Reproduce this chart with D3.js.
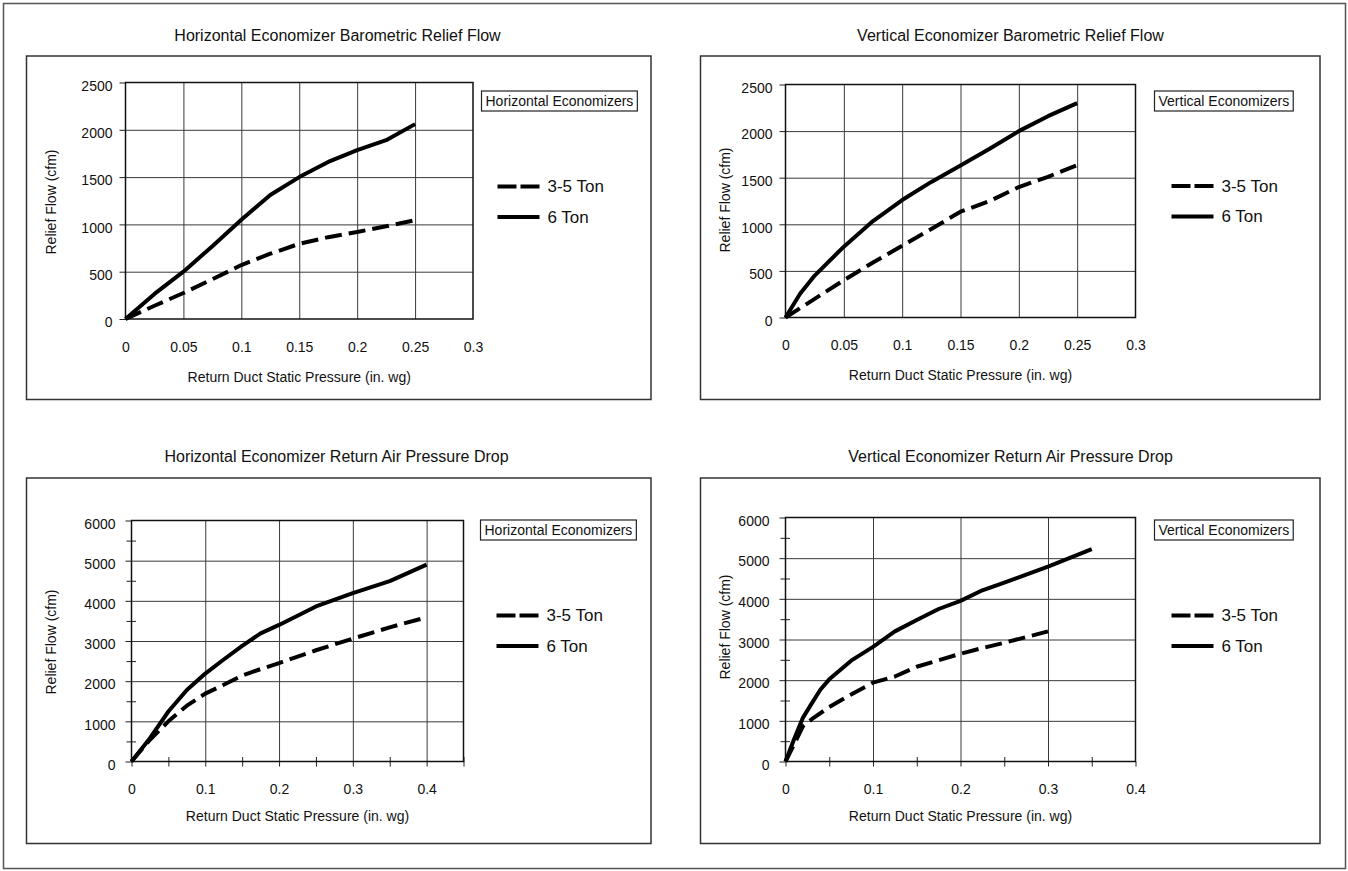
<!DOCTYPE html>
<html>
<head>
<meta charset="utf-8">
<script src="https://cdnjs.cloudflare.com/ajax/libs/d3/7.8.5/d3.min.js"></script>
<style>
  body { margin: 0; background: #fff; }
  svg { display: block; font-family: "Liberation Sans", Arial, sans-serif; }
</style>
</head>
<body>
<script>
const W = 1348, H = 871;

// top left: horizontal economizer, barometric relief
const hrX  = [0, 0.025, 0.05, 0.075, 0.1, 0.125, 0.15, 0.175, 0.2, 0.225, 0.25];
const hr35 = [0, 140, 275, 420, 570, 690, 795, 865, 920, 980, 1045];
const hr6  = [0, 265, 500, 770, 1050, 1310, 1500, 1660, 1785, 1890, 2060];

// top right: vertical economizer, barometric relief
const vr35X = [0, 0.025, 0.05, 0.075, 0.1, 0.125, 0.15, 0.175, 0.2, 0.225, 0.25];
const vr35  = [0, 200, 400, 590, 770, 950, 1135, 1250, 1400, 1510, 1635];
const vr6X  = [0, 0.0125, 0.025, 0.05, 0.075, 0.1, 0.125, 0.15, 0.175, 0.2, 0.225, 0.25];
const vr6   = [0, 255, 450, 760, 1035, 1260, 1455, 1630, 1810, 2000, 2160, 2300];

// bottom left: horizontal economizer, return air pressure drop
const hpX  = [0, 0.025, 0.05, 0.075, 0.1, 0.125, 0.15, 0.175, 0.2, 0.25, 0.3, 0.35, 0.4];
const hp35 = [0, 540, 1000, 1390, 1690, 1910, 2140, 2300, 2450, 2770, 3060, 3340, 3590];
const hp6  = [0, 580, 1245, 1780, 2190, 2540, 2880, 3190, 3400, 3860, 4190, 4490, 4900];

// bottom right: vertical economizer, return air pressure drop
const vp35X = [0, 0.01, 0.02, 0.03, 0.05, 0.075, 0.1, 0.125, 0.15, 0.175, 0.2, 0.225, 0.25, 0.3];
const vp35  = [0, 430, 870, 1040, 1340, 1650, 1940, 2090, 2330, 2490, 2650, 2790, 2920, 3200];
const vp6X  = [0, 0.01, 0.02, 0.03, 0.04, 0.05, 0.075, 0.1, 0.125, 0.15, 0.175, 0.2, 0.225, 0.25, 0.3, 0.35];
const vp6   = [0, 560, 1080, 1430, 1770, 2020, 2480, 2820, 3200, 3480, 3750, 3950, 4210, 4400, 4790, 5220];

const seriesNames = ["3-5 Ton", "6 Ton"];
const xTitle = "Return Duct Static Pressure (in. wg)";
const yTitle = "Relief Flow (cfm)";

const panels = [
  { title: "Horizontal Economizer Barometric Relief Flow", box: "Horizontal Economizers",
    frame: [26.5, 56, 651, 399.5], plot: [125.5, 82.5, 473, 319], titleX: 337.5, titleY: 35,
    xMax: 0.3, xStep: 0.05, xLabelMax: 0.3, yMax: 2500, yStep: 500, minor: false,
    boxAt: [481.5, 91], legX: 497.5, legY: [186.5, 217], yTitleY: 202,
    lines: [[hrX, hr35], [hrX, hr6]] },
  { title: "Vertical Economizer Barometric Relief Flow", box: "Vertical Economizers",
    frame: [700.5, 56, 1320, 399.5], plot: [785.5, 84.5, 1135.5, 317.5], titleX: 1010.5, titleY: 35,
    xMax: 0.3, xStep: 0.05, xLabelMax: 0.3, yMax: 2500, yStep: 500, minor: false,
    boxAt: [1154.5, 91], legX: 1171.5, legY: [186, 216.5], yTitleY: 200,
    lines: [[vr35X, vr35], [vr6X, vr6]] },
  { title: "Horizontal Economizer Return Air Pressure Drop", box: "Horizontal Economizers",
    frame: [26.5, 478, 651, 843.5], plot: [131.5, 520.5, 463.5, 761.5], titleX: 336.5, titleY: 456,
    xMax: 0.45, xStep: 0.1, xLabelMax: 0.4, yMax: 6000, yStep: 1000, minor: true,
    boxAt: [480.5, 520], legX: 496.5, legY: [615.5, 646], yTitleY: 642,
    lines: [[hpX, hp35], [hpX, hp6]] },
  { title: "Vertical Economizer Return Air Pressure Drop", box: "Vertical Economizers",
    frame: [700.5, 478, 1320, 843.5], plot: [785.5, 517.5, 1135.5, 761.5], titleX: 1010.5, titleY: 456,
    xMax: 0.4, xStep: 0.1, xLabelMax: 0.4, yMax: 6000, yStep: 1000, minor: true,
    boxAt: [1154.5, 520], legX: 1171.5, legY: [615.5, 646], yTitleY: 627,
    lines: [[vp35X, vp35], [vp6X, vp6]] }
];

const svg = d3.select("body").append("svg")
    .attr("width", W)
    .attr("height", H);

svg.append("rect")
    .attr("x", 3.5).attr("y", 3.5)
    .attr("width", 1342).attr("height", 865)
    .attr("fill", "none").attr("stroke", "#555").attr("stroke-width", 1.5);

const fmtX = d => String(+d.toFixed(2));
const rng = (max, step) => d3.range(0, max + step / 1000, step).map(v => +v.toFixed(4));

panels.forEach(p => {
  const [fx0, fy0, fx1, fy1] = p.frame;
  const [px0, py0, px1, py1] = p.plot;
  const g = svg.append("g");

  g.append("rect")
      .attr("x", fx0).attr("y", fy0)
      .attr("width", fx1 - fx0).attr("height", fy1 - fy0)
      .attr("fill", "none").attr("stroke", "#333").attr("stroke-width", 1.5);

  g.append("text")
      .attr("x", p.titleX).attr("y", p.titleY)
      .attr("text-anchor", "middle").attr("dy", "0.35em")
      .attr("font-size", 16).attr("fill", "#111")
      .text(p.title);

  const x = d3.scaleLinear().domain([0, p.xMax]).range([px0, px1]);
  const y = d3.scaleLinear().domain([0, p.yMax]).range([py1, py0]);

  const yTicks = rng(p.yMax, p.yStep);
  const xGrid = rng(p.xMax, p.xStep).filter(v => v > 0 && v < p.xMax - 1e-6);
  const xLabels = rng(p.xLabelMax, p.xStep);

  // gridlines
  g.append("g")
      .attr("transform", `translate(${px0},0)`)
      .call(d3.axisLeft(y).tickValues(yTicks.slice(1, -1)).tickSize(-(px1 - px0)).tickFormat(""))
      .call(a => a.select(".domain").remove())
      .selectAll("line").attr("stroke", "#3a3a3a").attr("stroke-width", 1);
  g.append("g")
      .attr("transform", `translate(0,${py1})`)
      .call(d3.axisBottom(x).tickValues(xGrid).tickSize(-(py1 - py0)).tickFormat(""))
      .call(a => a.select(".domain").remove())
      .selectAll("line").attr("stroke", "#3a3a3a").attr("stroke-width", 1);

  // minor tick marks crossing the axes
  if (p.minor) {
    const yMinor = rng(p.yMax, p.yStep / 2).filter((v, i) => i % 2 === 1);
    g.append("g")
        .attr("transform", `translate(${px0 + 4.5},0)`)
        .call(d3.axisLeft(y).tickValues(yMinor).tickSize(9.5).tickFormat(""))
        .call(a => a.select(".domain").remove())
        .selectAll("line").attr("stroke", "#222");
    const xMinor = rng(p.xMax, p.xStep / 2).filter((v, i) => i % 2 === 1);
    g.append("g")
        .attr("transform", `translate(0,${py1 - 4.5})`)
        .call(d3.axisBottom(x).tickValues(xMinor).tickSize(9.5).tickFormat(""))
        .call(a => a.select(".domain").remove())
        .selectAll("line").attr("stroke", "#222");
  }

  // y axis ticks + labels
  const yAx = g.append("g")
      .attr("transform", `translate(${px0},0)`)
      .call(d3.axisLeft(y).tickValues(yTicks).tickSize(6).tickPadding(p.minor ? 10 : 7).tickFormat(d3.format("d")));
  yAx.select(".domain").remove();
  yAx.selectAll("line").attr("stroke", "#222");
  yAx.selectAll("text").attr("font-size", 14).attr("fill", "#111").attr("dy", "0.55em")
      .attr("font-family", "Liberation Sans, Arial, sans-serif");

  // x axis labels (major ticks only on lower charts)
  const xAx = g.append("g")
      .attr("transform", `translate(0,${py1})`)
      .call(d3.axisBottom(x).tickValues(xLabels).tickSize(p.minor ? 5 : 0)
        .tickPadding(p.minor ? 18 : 23).tickFormat(fmtX));
  xAx.select(".domain").remove();
  xAx.selectAll("line").attr("stroke", "#222");
  xAx.selectAll("text").attr("font-size", 14).attr("fill", "#111")
      .attr("font-family", "Liberation Sans, Arial, sans-serif");

  // plot border
  g.append("rect")
      .attr("x", px0).attr("y", py0)
      .attr("width", px1 - px0).attr("height", py1 - py0)
      .attr("fill", "none").attr("stroke", "#111").attr("stroke-width", 1.5);

  // axis titles
  g.append("text")
      .attr("x", (px0 + px1) / 2).attr("y", py1 + (p.minor ? 55 : 58))
      .attr("text-anchor", "middle").attr("dy", "0.35em")
      .attr("font-size", 14).attr("fill", "#111")
      .text(xTitle);
  g.append("text")
      .attr("transform", `translate(${fx0 + 25},${p.yTitleY}) rotate(-90)`)
      .attr("text-anchor", "middle").attr("dy", "0.35em")
      .attr("font-size", 14).attr("fill", "#111")
      .text(yTitle);

  // curves
  const line = d3.line().x(d => x(d[0])).y(d => y(d[1]));
  p.lines.forEach(([xs, ys], i) => {
    g.append("path")
        .datum(xs.map((v, k) => [v, ys[k]]))
        .attr("d", line)
        .attr("fill", "none")
        .attr("stroke", "#000")
        .attr("stroke-width", 4)
        .attr("stroke-linejoin", "round")
        .attr("stroke-dasharray", i === 0 ? "17,7" : null);
  });

  // boxed label
  const boxRect = g.append("rect")
      .attr("x", p.boxAt[0]).attr("y", p.boxAt[1])
      .attr("height", 20)
      .attr("fill", "#fff").attr("stroke", "#222").attr("stroke-width", 1.2);
  const bt = g.append("text")
      .attr("x", p.boxAt[0] + 4).attr("y", p.boxAt[1] + 10)
      .attr("dy", "0.35em")
      .attr("font-size", 14).attr("fill", "#111")
      .text(p.box);
  boxRect.attr("width", bt.node().getComputedTextLength() + 8);

  // legend
  seriesNames.forEach((name, i) => {
    g.append("line")
        .attr("x1", p.legX).attr("x2", p.legX + 42)
        .attr("y1", p.legY[i]).attr("y2", p.legY[i])
        .attr("stroke", "#000").attr("stroke-width", 4)
        .attr("stroke-dasharray", i === 0 ? "19,4" : null);
    g.append("text")
        .attr("x", p.legX + 50).attr("y", p.legY[i])
        .attr("dy", "0.35em")
        .attr("font-size", 17).attr("fill", "#111")
        .text(name);
  });
});
</script>
</body>
</html>
